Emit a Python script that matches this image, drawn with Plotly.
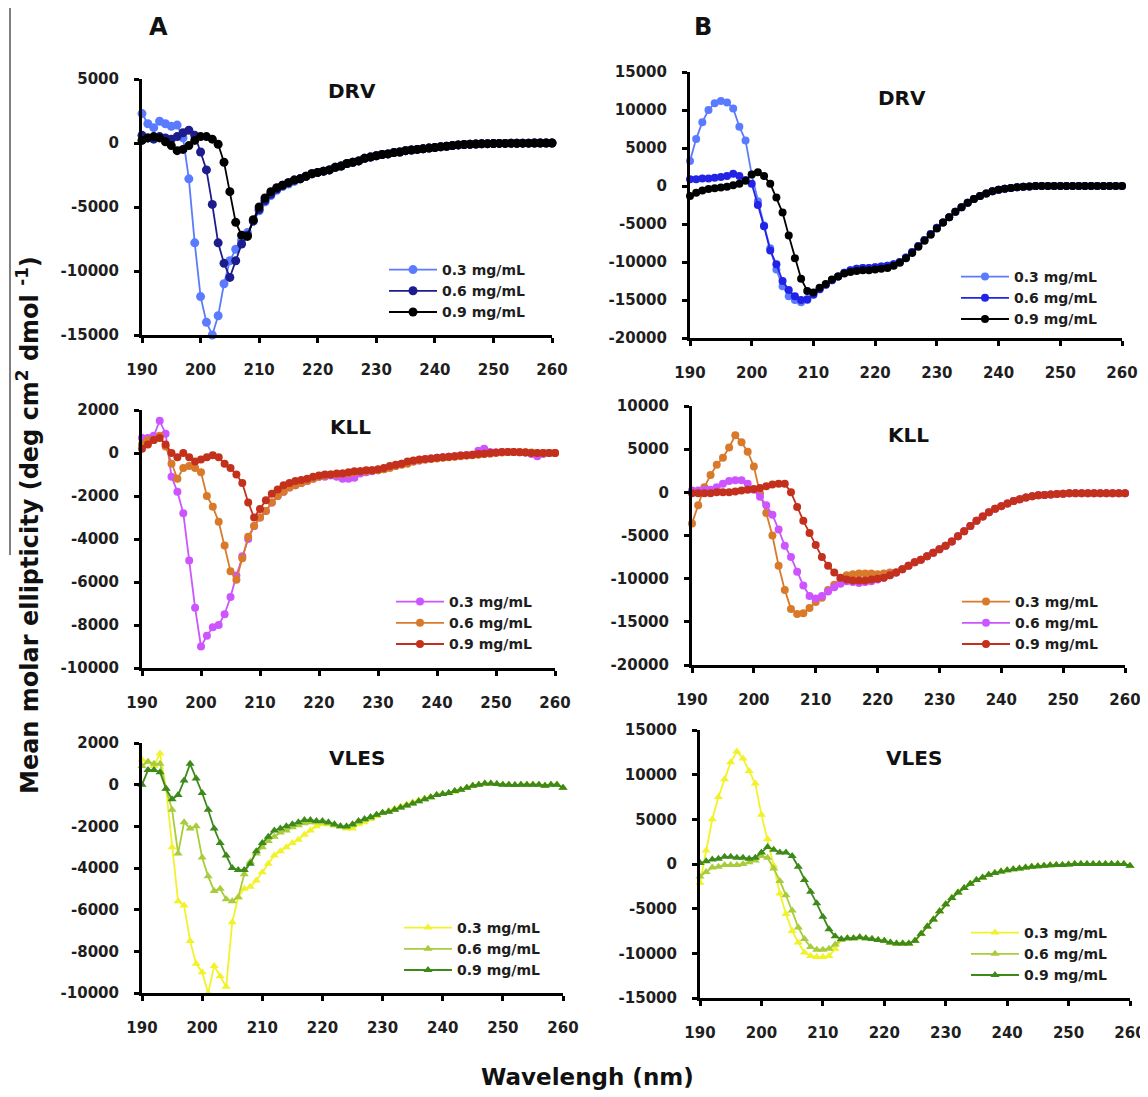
import plotly.graph_objects as go

# page body adds an 8px margin, so the figure is drawn 8px in from the corner
OFF = 8
W, H = 1148 - OFF, 1097 - OFF


def fx(px):
    return (px - OFF) / W


def fy(py):
    return 1 - (py - OFF) / H


# ---------------- data (wavelength 190..260 nm, 1 nm steps) ----------------
wavelength = list(range(190, 261))
x_ticks = [190, 200, 210, 220, 230, 240, 250, 260]
conc_labels = ["0.3 mg/mL", "0.6 mg/mL", "0.9 mg/mL"]

# Panel A - DRV
drv_a_03 = [2300, 1500, 1200, 1700, 1500, 1300, 1400, 400, -2800, -7800,
            -12000, -14000, -15000, -13500, -11000, -9200, -8300, -7600, -7000, -6100,
            -5300, -4600, -4100, -3700, -3400, -3200, -3000, -2800, -2600, -2400,
            -2300, -2200, -2100, -1900, -1800, -1600, -1500, -1400, -1200, -1100,
            -1000, -900, -850, -750, -700, -600, -550, -500, -450, -400,
            -350, -300, -250, -200, -150, -120, -100, -80, -60, -50,
            -40, -30, -30, -20, -20, -10, -10, 0, 0, 0, 0]
drv_a_06 = [600, 400, 300, 500, 400, 300, 500, 800, 1000, 600,
            -700, -2100, -4800, -7800, -9400, -10500, -9200, -7900, -7200, -6100,
            -5200, -4500, -4000, -3600, -3300, -3100, -2900, -2800, -2600, -2400,
            -2300, -2200, -2100, -1900, -1800, -1600, -1500, -1400, -1200, -1100,
            -1000, -900, -850, -750, -700, -600, -550, -500, -450, -400,
            -350, -300, -250, -200, -150, -120, -100, -80, -60, -50,
            -40, -30, -30, -20, -20, -10, -10, 0, 0, 0, 0]
drv_a_09 = [200, 400, 500, 400, 100, -200, -600, -500, -200, 200,
            500, 500, 300, -100, -1500, -3800, -6200, -7200, -7300, -6000,
            -5000, -4300, -3800, -3500, -3300, -3100, -2900, -2800, -2600, -2400,
            -2300, -2200, -2100, -1900, -1800, -1600, -1500, -1400, -1200, -1100,
            -1000, -900, -850, -750, -700, -600, -550, -500, -450, -400,
            -350, -300, -250, -200, -150, -120, -100, -80, -60, -50,
            -40, -30, -30, -20, -20, -10, -10, 0, 0, 0, 0]

# Panel B - DRV
drv_b_03 = [3300, 6200, 8400, 10000, 10900, 11200, 11000, 10200, 7800, 6000,
            1500, -2000, -5200, -8200, -11000, -13200, -14500, -15000, -15300, -15000,
            -14200, -13600, -13000, -12400, -11900, -11400, -11100, -10900, -10800, -10800,
            -10700, -10600, -10500, -10300, -10000, -9400, -8700, -7900, -7100, -6300,
            -5500, -4800, -4100, -3400, -2800, -2200, -1700, -1300, -1000, -700,
            -500, -350, -250, -150, -100, -50, 0, 0, 0, 0,
            0, 0, 0, 0, 0, 0, 0, 0, 0, 0, 0]
drv_b_06 = [900, 900, 1000, 1000, 1100, 1200, 1300, 1600, 1300, 800,
            300, -2500, -5300, -8500, -10300, -12500, -13700, -14500, -15000, -14900,
            -14300, -13600, -13000, -12400, -11900, -11400, -11100, -10900, -10800, -10800,
            -10700, -10600, -10500, -10300, -10000, -9400, -8700, -7900, -7100, -6300,
            -5500, -4800, -4100, -3400, -2800, -2200, -1700, -1300, -1000, -700,
            -500, -350, -250, -150, -100, -50, 0, 0, 0, 0,
            0, 0, 0, 0, 0, 0, 0, 0, 0, 0, 0]
drv_b_09 = [-1300, -900, -600, -400, -300, -200, -100, 100, 300, 700,
            1500, 1800, 1300, 300, -1500, -3500, -6500, -9500, -12200, -13800,
            -14000, -13400, -12900, -12300, -11900, -11500, -11300, -11200, -11100, -11100,
            -11000, -10900, -10800, -10500, -10100, -9500, -8800, -8000, -7200, -6400,
            -5600, -4800, -4100, -3400, -2800, -2200, -1700, -1300, -1000, -700,
            -500, -350, -250, -150, -100, -50, 0, 0, 0, 0,
            0, 0, 0, 0, 0, 0, 0, 0, 0, 0, 0]

# Panel A - KLL
kll_a_03 = [700, 700, 800, 1500, 900, -1100, -1800, -2800, -5000, -7200,
            -9000, -8500, -8100, -8000, -7500, -6700, -5700, -4800, -4000, -3400,
            -3000, -2700, -2300, -2000, -1800, -1600, -1500, -1400, -1300, -1200,
            -1100, -1100, -1050, -1100, -1200, -1200, -1150, -950, -900, -850,
            -800, -750, -650, -600, -500, -450, -400, -350, -300, -250,
            -220, -200, -180, -150, -120, -100, -80, 100, 200, 50,
            20, 50, 50, 50, 30, 20, -50, -150, -50, 0, 0]
kll_a_06 = [400, 600, 600, 800, 300, -500, -1200, -700, -600, -700,
            -900, -2000, -2500, -3200, -4300, -5500, -5900, -4900, -3900, -3400,
            -3000, -2700, -2300, -2000, -1800, -1600, -1500, -1400, -1300, -1200,
            -1100, -1050, -1000, -1000, -950, -950, -900, -850, -850, -800,
            -800, -750, -700, -600, -550, -500, -400, -350, -300, -280,
            -250, -220, -200, -180, -150, -120, -100, -80, -50, -30,
            0, 20, 50, 50, 50, 30, 20, 0, 0, 0, 0]
kll_a_09 = [200, 400, 600, 700, 400, 0, -200, 0, -200, -400,
            -300, -200, -100, -200, -500, -700, -1000, -1400, -2300, -3000,
            -2600, -2200, -1900, -1700, -1500, -1400, -1300, -1250, -1200, -1100,
            -1050, -1000, -1000, -950, -950, -900, -850, -850, -800, -800,
            -750, -700, -600, -550, -500, -400, -350, -300, -280, -250,
            -220, -200, -180, -150, -120, -100, -80, -50, -30, 0,
            20, 50, 50, 50, 30, 20, 0, 0, 0, 0, 0]

# Panel B - KLL
kll_b_03 = [-3600, -1500, 600, 2000, 3200, 4000, 5200, 6600, 5800, 4700,
            3000, -100, -2400, -5000, -8500, -11300, -13500, -14100, -14000, -13400,
            -12700, -12200, -11300, -10700, -10000, -9600, -9500, -9400, -9400, -9400,
            -9500, -9400, -9300, -9300, -8900, -8500, -8100, -7800, -7400, -7000,
            -6600, -6200, -5700, -5100, -4500, -3900, -3300, -2800, -2300, -1900,
            -1600, -1300, -1000, -800, -600, -450, -350, -300, -250, -200,
            -150, -100, -100, -100, -100, -100, -100, -100, -100, -100, -100]
kll_b_06 = [200, 200, 300, 300, 600, 1000, 1300, 1400, 1400, 1000,
            300, -500, -1500, -2600, -4300, -6200, -7500, -9200, -10800, -12000,
            -12300, -12000, -11500, -11000, -10600, -10300, -10400, -10500, -10400, -10300,
            -10100, -9900, -9600, -9300, -8900, -8500, -8100, -7800, -7400, -7000,
            -6600, -6200, -5700, -5100, -4500, -3900, -3300, -2800, -2300, -1900,
            -1600, -1300, -1000, -800, -600, -450, -350, -300, -250, -200,
            -150, -100, -100, -100, -100, -100, -100, -100, -100, -100, -100]
kll_b_09 = [-100, -100, -100, -100, 0, 0, 0, 100, 200, 300,
            400, 500, 700, 900, 1000, 1000, 0, -1700, -3300, -4700,
            -6100, -7500, -8500, -9300, -9900, -10100, -10200, -10200, -10200, -10100,
            -10000, -9900, -9600, -9300, -8900, -8500, -8100, -7800, -7400, -7000,
            -6600, -6200, -5700, -5100, -4500, -3900, -3300, -2800, -2300, -1900,
            -1600, -1300, -1000, -800, -600, -450, -350, -300, -250, -200,
            -150, -100, -100, -100, -100, -100, -100, -100, -100, -100, -100]

# Panel A - VLES
vles_a_03 = [1200, 1100, 900, 1500, -200, -3000, -5600, -5800, -7500, -8600,
             -9000, -10000, -8700, -9200, -9700, -6600, -5400, -5000, -4900, -4600,
             -4200, -3800, -3400, -3200, -3000, -2800, -2650, -2400, -2200, -2000,
             -1900, -1900, -1950, -2000, -2100, -2100, -1900, -1800, -1650, -1500,
             -1350, -1250, -1150, -1050, -950, -850, -750, -650, -600, -500,
             -450, -400, -350, -250, -150, -50, 0, 50, 50, 30,
             0, 0, -20, 0, 0, 0, 0, -50, 0, 0, -150]
vles_a_06 = [900, 1100, 1000, 1000, -200, -1200, -3300, -1800, -2100, -2000,
             -3500, -4400, -5100, -5000, -5500, -5600, -5400, -4300, -3700, -3300,
             -3000, -2700, -2500, -2300, -2200, -2050, -1950, -1850, -1800, -1800,
             -1800, -1850, -1950, -2000, -2050, -1950, -1800, -1700, -1600, -1450,
             -1350, -1300, -1200, -1100, -1000, -900, -800, -700, -600, -500,
             -450, -400, -300, -250, -150, -50, 0, 50, 50, 30,
             0, 0, -20, 0, 0, 0, 0, -50, 0, 0, -150]
vles_a_09 = [0, 700, 700, 600, -200, -700, -500, 200, 1000, 300,
             -400, -1200, -2100, -2800, -3400, -4000, -4100, -4100, -3800, -3200,
             -2800, -2500, -2200, -2100, -2000, -1900, -1800, -1700, -1700, -1750,
             -1750, -1800, -1900, -2000, -2000, -1900, -1750, -1650, -1550, -1450,
             -1350, -1300, -1200, -1100, -1000, -900, -800, -700, -600, -500,
             -450, -400, -300, -250, -150, -50, 0, 50, 50, 30,
             0, 0, -20, 0, 0, 0, 0, -50, 0, 0, -150]

# Panel B - VLES
vles_b_03 = [-2100, 1500, 5000, 7500, 9500, 11400, 12600, 11800, 10400, 9000,
             5500, 2800, -200, -3300, -5600, -7500, -8800, -9900, -10300, -10400,
             -10400, -10300, -9500, -8500, -8300, -8300, -8200, -8300, -8400, -8500,
             -8600, -8800, -8900, -8900, -8900, -8600, -7800, -7000, -6200, -5300,
             -4500, -3800, -3200, -2700, -2200, -1800, -1500, -1200, -1000, -850,
             -700, -600, -500, -400, -300, -250, -200, -150, -100, -100,
             -50, 0, 0, 0, 0, 0, 0, 0, 0, 0, -200]
vles_b_06 = [-1400, -900, -400, -300, -100, -100, -100, 0, 200, 400,
             900, 700, -500, -1900, -3500, -5200, -7100, -8400, -9300, -9600,
             -9600, -9500, -9000, -8500, -8300, -8300, -8200, -8300, -8400, -8500,
             -8600, -8800, -8900, -8900, -8900, -8600, -7800, -7000, -6200, -5300,
             -4500, -3800, -3200, -2700, -2200, -1800, -1500, -1200, -1000, -850,
             -700, -600, -500, -400, -300, -250, -200, -150, -100, -100,
             -50, 0, 0, 0, 0, 0, 0, 0, 0, 0, -200]
vles_b_09 = [100, 300, 500, 600, 800, 800, 700, 700, 600, 700,
             1300, 1900, 1600, 1300, 1300, 900, -300, -1800, -3100, -4400,
             -5900, -7300, -8100, -8400, -8300, -8300, -8200, -8300, -8400, -8500,
             -8600, -8800, -8900, -8900, -8900, -8600, -7800, -7000, -6200, -5300,
             -4500, -3800, -3200, -2700, -2200, -1800, -1500, -1200, -1000, -850,
             -700, -600, -500, -400, -300, -250, -200, -150, -100, -100,
             -50, 0, 0, 0, 0, 0, 0, 0, 0, 0, -200]

yticks_drv_a = [5000, 0, -5000, -10000, -15000]
yticks_drv_b = [15000, 10000, 5000, 0, -5000, -10000, -15000, -20000]
yticks_kll_a = [2000, 0, -2000, -4000, -6000, -8000, -10000]
yticks_kll_b = [10000, 5000, 0, -5000, -10000, -15000, -20000]
yticks_vles_a = [2000, 0, -2000, -4000, -6000, -8000, -10000]
yticks_vles_b = [15000, 10000, 5000, 0, -5000, -10000, -15000]

# ---------------- styling / layout ----------------
FONT = "DejaVu Sans"
C_LBLUE, C_NAVY, C_BLUE, C_BLACK = "#5a7bff", "#1c1c8c", "#2323e6", "#000000"
C_MAG, C_ORA, C_RED = "#cc55ff", "#d97a2b", "#c3301c"
C_YEL, C_LGR, C_DGR = "#f2f22a", "#a8cc3c", "#3d8a1a"

panels = [
    dict(title="DRV", px=(142, 552), py=(79, 335), ticks=yticks_drv_a, tpos=(352, 91), leg=(384, 254),
         series=[(drv_a_03, C_LBLUE, "circle", 9), (drv_a_06, C_NAVY, "circle", 9), (drv_a_09, C_BLACK, "circle", 9)]),
    dict(title="DRV", px=(690, 1122), py=(72, 338), ticks=yticks_drv_b, tpos=(902, 98), leg=(956, 261),
         series=[(drv_b_03, C_LBLUE, "circle", 8), (drv_b_06, C_BLUE, "circle", 8), (drv_b_09, C_BLACK, "circle", 8)]),
    dict(title="KLL", px=(142, 555), py=(410, 668), ticks=yticks_kll_a, tpos=(350, 427), leg=(391, 586),
         series=[(kll_a_03, C_MAG, "circle", 8), (kll_a_06, C_ORA, "circle", 8), (kll_a_09, C_RED, "circle", 8)]),
    dict(title="KLL", px=(692, 1125), py=(406, 665), ticks=yticks_kll_b, tpos=(908, 435), leg=(957, 586),
         series=[(kll_b_03, C_ORA, "circle", 8), (kll_b_06, C_MAG, "circle", 8), (kll_b_09, C_RED, "circle", 8)]),
    dict(title="VLES", px=(142, 563), py=(743, 993), ticks=yticks_vles_a, tpos=(357, 758), leg=(399, 912),
         series=[(vles_a_03, C_YEL, "triangle-up", 8), (vles_a_06, C_LGR, "triangle-up", 8), (vles_a_09, C_DGR, "triangle-up", 8)]),
    dict(title="VLES", px=(700, 1130), py=(730, 998), ticks=yticks_vles_b, tpos=(914, 758), leg=(966, 917),
         series=[(vles_b_03, C_YEL, "triangle-up", 8), (vles_b_06, C_LGR, "triangle-up", 8), (vles_b_09, C_DGR, "triangle-up", 8)]),
]

fig = go.Figure()
layout = dict(
    width=W, height=H, margin=dict(l=0, r=0, t=0, b=0, autoexpand=False),
    paper_bgcolor="white", plot_bgcolor="white",
    showlegend=True, annotations=[], shapes=[],
)

tick_font = dict(family=FONT, size=15, color="#1e1e1e", weight="bold")

for i, p in enumerate(panels):
    n = i + 1
    xa = "xaxis" if n == 1 else f"xaxis{n}"
    ya = "yaxis" if n == 1 else f"yaxis{n}"
    xref = "x" if n == 1 else f"x{n}"
    yref = "y" if n == 1 else f"y{n}"
    lg = "legend" if n == 1 else f"legend{n}"
    ymax, ymin = p["ticks"][0], p["ticks"][-1]
    layout[xa] = dict(
        domain=[fx(p["px"][0]), fx(p["px"][1])], anchor=yref,
        range=[190, 260], tickvals=x_ticks, ticktext=[str(v) for v in x_ticks],
        showline=True, linecolor="black", linewidth=3, ticks="outside", ticklen=5,
        tickwidth=2.5, tickcolor="black", showgrid=False, zeroline=False,
        tickfont=tick_font, ticklabelstandoff=14, fixedrange=True, automargin=False,
    )
    layout[ya] = dict(
        domain=[fy(p["py"][1]), fy(p["py"][0])], anchor=xref,
        range=[ymin, ymax], tickvals=p["ticks"], ticktext=[str(v) for v in p["ticks"]],
        showline=True, linecolor="black", linewidth=3, ticks="outside", ticklen=5,
        tickwidth=2.5, tickcolor="black", showgrid=False, zeroline=False,
        tickfont=tick_font, ticklabelstandoff=12, fixedrange=True, automargin=False,
    )
    for (vals, col, sym, ms), lab in zip(p["series"], conc_labels):
        fig.add_trace(go.Scatter(
            x=wavelength, y=vals, mode="lines+markers", name=lab,
            line=dict(color=col, width=1.8),
            marker=dict(color=col, symbol=sym, size=ms),
            xaxis=xref, yaxis=yref, legend=lg, cliponaxis=False,
        ))
    layout[lg] = dict(
        x=fx(p["leg"][0]), y=fy(p["leg"][1]), xanchor="left", yanchor="top",
        bgcolor="rgba(0,0,0,0)", borderwidth=0, itemwidth=48,
        font=dict(family=FONT, size=14, color="#1e1e1e", weight="bold"),
        tracegroupgap=0, itemclick=False, itemdoubleclick=False,
    )
    layout["annotations"].append(dict(
        text=p["title"], x=fx(p["tpos"][0]), y=fy(p["tpos"][1]), xref="paper", yref="paper",
        xanchor="center", yanchor="middle", showarrow=False,
        font=dict(family=FONT, size=20, color="#111111", weight="bold"),
    ))

# panel letters
for letter, (lx, ly) in [("A", (158, 27)), ("B", (703, 27))]:
    layout["annotations"].append(dict(
        text=letter, x=fx(lx), y=fy(ly), xref="paper", yref="paper",
        xanchor="center", yanchor="middle", showarrow=False,
        font=dict(family=FONT, size=24, color="#111111", weight="bold"),
    ))

# shared axis titles
layout["annotations"].append(dict(
    text="Mean molar ellipticity (deg cm<sup>2</sup> dmol <sup>-1</sup>)",
    x=fx(28), y=fy(525), xref="paper", yref="paper", textangle=-90,
    xanchor="center", yanchor="middle", showarrow=False,
    font=dict(family=FONT, size=24, color="#111111", weight="bold"),
))
layout["annotations"].append(dict(
    text="Wavelengh (nm)", x=fx(587), y=fy(1077), xref="paper", yref="paper",
    xanchor="center", yanchor="middle", showarrow=False,
    font=dict(family=FONT, size=23, color="#111111", weight="bold"),
))

# thin vertical rule at left edge
layout["shapes"].append(dict(
    type="line", xref="paper", yref="paper", x0=fx(10), x1=fx(10), y0=1, y1=fy(555),
    line=dict(color="#555555", width=1.5),
))

fig.update_layout(**layout)
fig.write_html("out.html")
